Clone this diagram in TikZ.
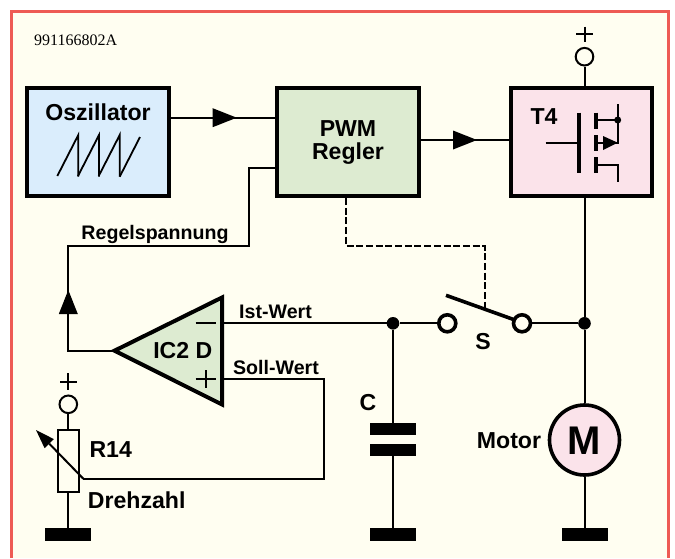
\documentclass[tikz,border=0pt]{standalone}
\usepackage{fontspec}
\setmainfont{Liberation Sans}
\newfontfamily\codefont{Liberation Serif}
\usetikzlibrary{arrows.meta}
\definecolor{paper}{HTML}{FFFEF1}
\definecolor{framered}{HTML}{EE5B55}
\definecolor{oscblue}{HTML}{DAEDFC}
\definecolor{regelgreen}{HTML}{DDEBD1}
\definecolor{fetpink}{HTML}{FBE3EA}
\tikzset{
  wire/.style={line width=2pt},
  box/.style={draw,line width=4pt,minimum width=141.7pt,minimum height=107.7pt,inner sep=0pt},
  lbl/.style={font=\fontsize{23.1}{23}\selectfont\bfseries,inner sep=0pt,align=center},
  sublbl/.style={font=\fontsize{19.6}{20}\selectfont\bfseries,inner sep=0pt},
  bigtip/.style={-{Triangle[length=24pt,width=19pt,line width=0pt]}},
  bar/.style={fill=black,minimum width=46pt,minimum height=12.4pt,inner sep=0pt},
  dot/.style={circle,fill=black,minimum size=12.6pt,inner sep=0pt},
  terminal/.style={circle,draw,fill=paper,line width=2pt,minimum size=17.6pt,inner sep=0pt},
  contact/.style={circle,draw,fill=paper,line width=3.6pt,minimum size=17pt,inner sep=0pt}
}
\begin{document}
\begin{tikzpicture}[x=1pt,y=-1pt]
\useasboundingbox (0,0) rectangle (675,558);
\fill[paper] (11.5,11.5) rectangle (668.5,558);
\draw[framered,line width=3pt] (11.5,558) -- (11.5,11.5) -- (668.5,11.5) -- (668.5,558);
\node[font=\codefont\fontsize{16}{16}\selectfont,inner sep=0pt] (code) at (75.7,40) {991166802A};
% blocks
\node[box,fill=oscblue] (osc) at (98.2,142.2) {};
\node[box,fill=regelgreen] (pwm) at (348.2,142.2) {};
\node[box,fill=fetpink] (fet) at (581.4,142.2) {};
\node[lbl] (osclbl) at (98,112.5) {Oszillator};
\node[lbl] (pwmlbl) at (348,142) {PWM\\Regler};
\node[lbl] (fetlbl) at (544,116.7) {T4};
\foreach \x in {78.3,99,119.7} \draw[line width=1.8pt] (\x-21,176) -- (\x,135) -- (\x,176.7);
\draw[line width=1.8pt] (119.7,176.7) -- (140,137);
% transistor
\draw[line width=4pt] (579,112.7) -- (579,173.3);
\foreach \y in {112.7,135,157.3} \draw[line width=4pt] (595.7,\y) -- (595.7,\y+16);
\draw[wire] (545.7,142.7) -- (579,142.7);
\draw[wire] (595.7,120) -- (617.7,120);
\draw[wire] (617.7,104) -- (617.7,142.7) -- (595.7,142.7);
\draw[wire] (595.7,165) -- (617.7,165) -- (617.7,181.7);
\fill (603,136) -- (617.7,142.7) -- (603,150) -- cycle;
\fill (617.7,120) circle (3.5);
% supply and motor
\node[terminal] (vplus) at (584.5,56.7) {};
\coordinate (vplustop) at (584.5,26.7);
\coordinate (vplusbot) at (584.5,42);
\draw[wire] (vplustop) -- (vplusbot);
\draw[wire] (576,34.3) -- (593,34.3);
\draw[wire] (vplus) -- (vplus |- fet.north);
\node[circle,draw,fill=fetpink,line width=3.6pt,minimum size=70pt,inner sep=0pt] (motor) at (584.5,440) {};
\node[font=\fontsize{40}{40}\selectfont\bfseries,inner sep=0pt] (motorm) at (584.5,441) {M};
\node[lbl] (motorlbl) at (509,441) {Motor};
\node[dot] (jmotor) at (584.5,323.3) {};
\node[bar] (gndm) at (584.5,534.5) {};
\draw[wire] (jmotor |- fet.south) -- (jmotor) -- (motor);
\draw[wire] (motor) -- (gndm);
% switch
\node[contact] (swa) at (447.3,323.3) {};
\node[contact] (swb) at (522,323.3) {};
\node[dot] (jcap) at (393,323.3) {};
\node[lbl] (swlbl) at (483,341.7) {S};
\coordinate (bladea) at (446,295.3);
\coordinate (bladeb) at (515,320);
\coordinate (bladem) at (484.5,309);
\draw[line width=3.6pt] (bladea) -- (bladeb);
\draw[wire] (swb) -- (jmotor);
\draw[wire] (jcap) -- (swa);
\coordinate (dashbend) at (345.7,245.7);
\draw[wire,dash pattern=on 7pt off 2.7pt] (dashbend |- pwm.south) -- (dashbend) -- (dashbend -| bladem) -- (bladem);
% capacitor
\node[bar] (capa) at (393,429) {};
\node[bar] (capb) at (393,449.7) {};
\node[bar] (gndc) at (393,534.5) {};
\node[lbl] (caplbl) at (368,403) {C};
\draw[wire] (jcap) -- (capa);
\draw[wire] (capb) -- (gndc);
% op amp
\coordinate (ictip) at (114.5,350.7);
\coordinate (icminus) at (224,323.3);
\coordinate (icplus) at (224,379);
\draw[line width=4pt,fill=regelgreen,line join=miter] (ictip) -- (222,297.5) -- (222,404.5) -- cycle;
\node[lbl] (iclbl) at (182.8,350.7) {IC2 D};
\draw[wire] (195.7,323.3) -- (215.7,323.3);
\draw[wire] (195.7,379) -- (215.7,379);
\draw[wire] (205.7,370) -- (205.7,388);
\node[sublbl] (istlbl) at (275.5,312) {Ist-Wert};
\node[sublbl] (solllbl) at (276,367.7) {Soll-Wert};
\draw[wire] (icminus) -- (jcap);
% feedback
\coordinate (fbup) at (68.3,290);
\coordinate (fbcorner) at (68.3,245.7);
\coordinate (fbin) at (248.7,167.7);
\draw[wire,bigtip] (ictip) -- (68.3,350.7) -- (fbup);
\draw[wire] ([yshift=-3pt]fbup) -- (fbcorner) -- (fbcorner -| fbin) -- (fbin) -- (fbin -| pwm.west);
\node[sublbl] (fblbl) at (155,234) {Regelspannung};
% speed pot
\node[terminal] (potplus) at (68.3,404.3) {};
\coordinate (potplustop) at (68.3,373);
\coordinate (potplusbot) at (68.3,390);
\draw[wire] (potplustop) -- (potplusbot);
\draw[wire] (60,381.7) -- (76.7,381.7);
\node[draw,fill=paper,line width=2pt,minimum width=20.6pt,minimum height=61.7pt,inner sep=0pt] (pot) at (68.3,461) {};
\node[bar] (gndp) at (68.3,534.5) {};
\draw[wire] (potplus) -- (pot);
\draw[wire] (pot) -- (gndp);
\node[lbl] (potlbl) at (110.7,450) {R14};
\node[lbl] (drehlbl) at (136.7,500) {Drehzahl};
\coordinate (sollright) at (324,379);
\coordinate (wiper) at (83.3,478.7);
\coordinate (wipertip) at (36,430);
\draw[wire] (icplus) -- (sollright) -- (sollright |- wiper) -- (wiper);
\draw[wire,-{Triangle[length=19pt,width=13pt,line width=0pt]}] (wiper) -- (wipertip);
% arrows between blocks
\coordinate (oscarrow) at (236.7,117.7);
\coordinate (pwmarrow) at (477,140);
\draw[wire,bigtip] (osc.east |- oscarrow) -- (oscarrow);
\draw[wire] ([xshift=-3pt]oscarrow) -- (oscarrow -| pwm.west);
\draw[wire,bigtip] (pwm.east |- pwmarrow) -- (pwmarrow);
\draw[wire] ([xshift=-3pt]pwmarrow) -- (pwmarrow -| fet.west);
\end{tikzpicture}
\end{document}
